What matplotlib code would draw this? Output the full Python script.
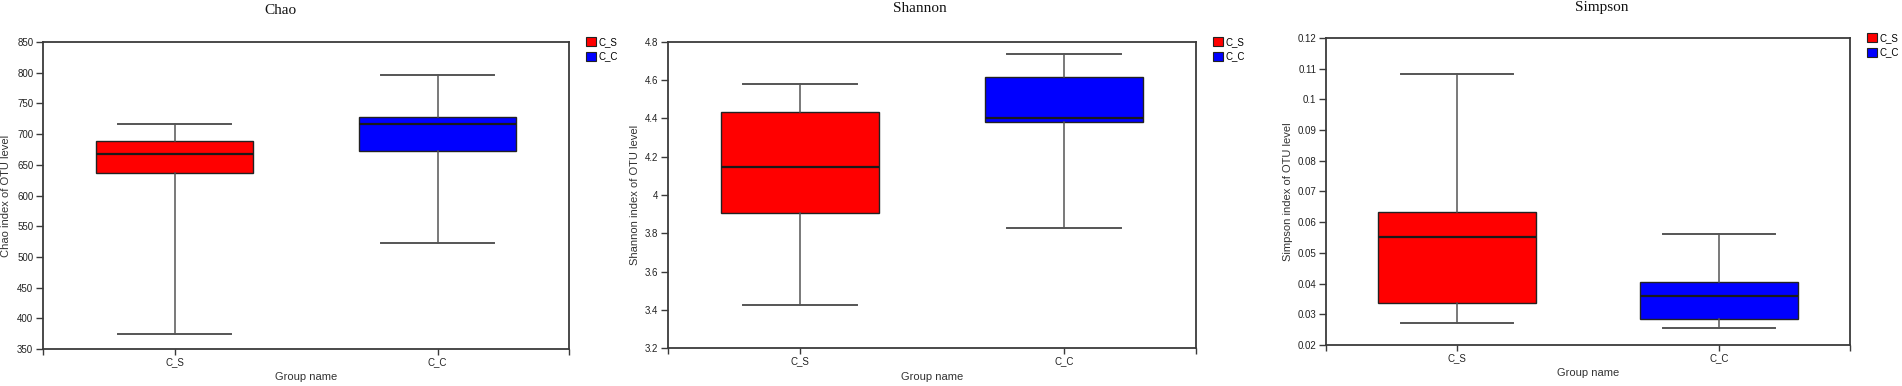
import matplotlib
matplotlib.use("Agg")
import matplotlib.pyplot as plt
from matplotlib.patches import Patch

# ---- data ----
groups = ["C_S", "C_C"]
colors = ["#ff0000", "#0000ff"]

titles = ["Chao", "Shannon", "Simpson"]
ylabels = ["Chao index of OTU level", "Shannon index of OTU level", "Simpson index of OTU level"]

# box statistics per group: lower whisker, Q1, median, Q3, upper whisker
chao_stats = [[375, 637, 668, 688, 716], [523, 672, 716, 728, 796]]
shannon_stats = [[3.423, 3.907, 4.145, 4.433, 4.581], [3.825, 4.380, 4.400, 4.617, 4.739]]
simpson_stats = [[0.0272, 0.0337, 0.0551, 0.0633, 0.1082], [0.0255, 0.0286, 0.0359, 0.0404, 0.0562]]

chao_ticks = [350, 400, 450, 500, 550, 600, 650, 700, 750, 800, 850]
shannon_ticks = [3.2, 3.4, 3.6, 3.8, 4.0, 4.2, 4.4, 4.6, 4.8]
simpson_ticks = [0.02, 0.03, 0.04, 0.05, 0.06, 0.07, 0.08, 0.09, 0.1, 0.11, 0.12]
chao_ticklabels = ["350", "400", "450", "500", "550", "600", "650", "700", "750", "800", "850"]
shannon_ticklabels = ["3.2", "3.4", "3.6", "3.8", "4", "4.2", "4.4", "4.6", "4.8"]
simpson_ticklabels = ["0.02", "0.03", "0.04", "0.05", "0.06", "0.07", "0.08", "0.09", "0.1", "0.11", "0.12"]

all_stats = [chao_stats, shannon_stats, simpson_stats]
all_ticks = [chao_ticks, shannon_ticks, simpson_ticks]
all_ticklabels = [chao_ticklabels, shannon_ticklabels, simpson_ticklabels]

# ---- layout ----
W, H = 1902, 386
fig = plt.figure(figsize=(W / 100, H / 100), dpi=100)

# axes boxes in pixels: left, top, right, bottom
boxes_px = [(43, 42, 569, 349), (668, 42, 1196, 348), (1326, 38, 1850, 345)]
ylabel_x_px = [6, 635, 1288]
xlabel_y_px = [377, 377, 373]
title_px = [(280, 11), (920, 9), (1602, 8)]

spine_col = "#3a3a3a"
sans = ["Liberation Sans", "DejaVu Sans"]
serif = ["Liberation Serif", "DejaVu Serif"]

for i in range(3):
    l, t, r, b = boxes_px[i]
    ax = fig.add_axes([l / W, (H - b) / H, (r - l) / W, (b - t) / H])
    stats = all_stats[i]
    bxp_data = []
    for g, s in zip(groups, stats):
        bxp_data.append(dict(label=g, whislo=s[0], q1=s[1], med=s[2], q3=s[3], whishi=s[4], fliers=[]))
    res = ax.bxp(bxp_data, positions=[0, 1], widths=0.6, patch_artist=True,
                 showfliers=False, capwidths=0.43,
                 boxprops=dict(edgecolor="#222222", linewidth=1.0),
                 medianprops=dict(color="#1a1a1a", linewidth=1.6),
                 whiskerprops=dict(color="#555555", linewidth=1.1),
                 capprops=dict(color="#555555", linewidth=1.4))
    for patch, c in zip(res["boxes"], colors):
        patch.set_facecolor(c)

    ax.set_xlim(-0.5, 1.5)
    ticks = all_ticks[i]
    ax.set_ylim(ticks[0], ticks[-1])
    ax.set_yticks(ticks)
    ax.set_yticklabels(all_ticklabels[i], fontsize=7, family=sans, color="#222222")
    ax.set_xticks([-0.5, 0, 1, 1.5])
    ax.set_xticklabels(["", groups[0], groups[1], ""], fontsize=7, family=sans, color="#222222")
    ax.tick_params(axis="y", length=5, width=1.0, color=spine_col, pad=2)
    ax.tick_params(axis="x", length=4, width=1.0, color=spine_col, pad=2)
    for sp in ax.spines.values():
        sp.set_color(spine_col)
        sp.set_linewidth(1.3)

    ax.set_ylabel(ylabels[i], fontsize=8, family=sans, color="#333333", va="center")
    ax.yaxis.set_label_coords((ylabel_x_px[i] - l) / (r - l), 0.5)
    ax.set_xlabel("Group name", fontsize=8, family=sans, color="#333333", va="center")
    ax.xaxis.set_label_coords(0.5, (b - xlabel_y_px[i]) / (b - t))

    tx, ty = title_px[i]
    ax.text((tx - l) / (r - l), 1 + (t - ty) / (b - t), titles[i], transform=ax.transAxes,
            ha="center", va="center", fontsize=11, family=serif, color="#111111")

    handles = [Patch(facecolor=c, edgecolor="#222222", linewidth=0.8, label=g) for g, c in zip(groups, colors)]
    leg = ax.legend(handles=handles, loc="upper left", bbox_to_anchor=(1 + 13 / (r - l), 1.03),
                    frameon=False, prop=dict(family=sans, size=7), handlelength=1.0, handleheight=1.0,
                    handletextpad=0.3, labelspacing=0.5, borderaxespad=0)

fig.savefig("out.png", dpi=100, facecolor="white")
